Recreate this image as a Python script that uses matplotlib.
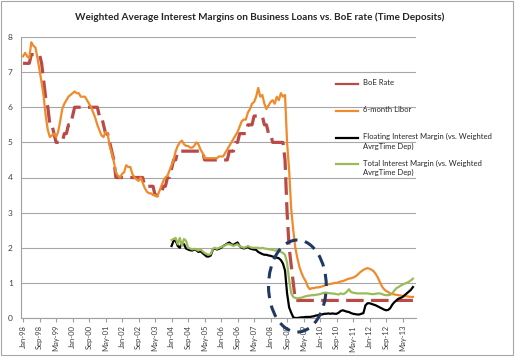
import numpy as np
import matplotlib.pyplot as plt
from matplotlib.patches import Ellipse, Rectangle
from matplotlib.lines import Line2D

title = 'Weighted Average Interest Margins on Business Loans vs. BoE rate (Time Deposits)'

# monthly, Jan-98 .. Oct-13
boe_rate = [
    7.25, 7.25, 7.25, 7.25, 7.5, 7.5, 7.5, 7.5, 7.5, 7.25, 6.75, 6.25,   # 1998
    6.0, 5.5, 5.5, 5.25, 5.0, 5.0, 5.0, 5.0, 5.25, 5.25, 5.5, 5.5,       # 1999
    5.75, 6.0, 6.0, 6.0, 6.0, 6.0, 6.0, 6.0, 6.0, 6.0, 6.0, 6.0,         # 2000
    6.0, 5.75, 5.75, 5.5, 5.25, 5.25, 5.0, 4.75, 4.5, 4.0, 4.0, 4.0,     # 2001
    4.0, 4.0, 4.0, 4.0, 4.0, 4.0, 4.0, 4.0, 4.0, 4.0, 4.0, 3.75,         # 2002
    3.75, 3.75, 3.75, 3.75, 3.5, 3.5, 3.5, 3.5, 3.75, 3.75, 4.0, 4.0,    # 2003
    4.25, 4.5, 4.5, 4.75, 4.75, 4.75, 4.75, 4.75, 4.75, 4.75, 4.75, 4.75,  # 2004
    4.75, 4.75, 4.75, 4.75, 4.5, 4.5, 4.5, 4.5, 4.5, 4.5, 4.5, 4.5,      # 2005
    4.5, 4.5, 4.5, 4.5, 4.75, 4.75, 4.75, 5.0, 5.0, 5.25, 5.25, 5.25,    # 2006
    5.25, 5.5, 5.5, 5.5, 5.75, 5.75, 5.75, 5.75, 5.75, 5.5, 5.5, 5.25,   # 2007
    5.25, 5.0, 5.0, 5.0, 5.0, 5.0, 5.0, 4.5, 3.0, 2.0, 1.5, 1.0,         # 2008
    0.5, 0.5, 0.5, 0.5, 0.5, 0.5, 0.5, 0.5, 0.5, 0.5, 0.5, 0.5,          # 2009
    0.5, 0.5, 0.5, 0.5, 0.5, 0.5, 0.5, 0.5, 0.5, 0.5, 0.5, 0.5,          # 2010
    0.5, 0.5, 0.5, 0.5, 0.5, 0.5, 0.5, 0.5, 0.5, 0.5, 0.5, 0.5,          # 2011
    0.5, 0.5, 0.5, 0.5, 0.5, 0.5, 0.5, 0.5, 0.5, 0.5, 0.5, 0.5,          # 2012
    0.5, 0.5, 0.5, 0.5, 0.5, 0.5, 0.5, 0.5, 0.5, 0.5,                    # 2013
]

libor_6m = [
    7.45, 7.55, 7.45, 7.4, 7.85, 7.75, 7.7, 7.4, 7.05, 6.7, 6.3, 5.75,
    5.35, 5.15, 5.2, 5.25, 5.15, 5.3, 5.6, 5.95, 6.1, 6.2, 6.3, 6.35,
    6.4, 6.45, 6.4, 6.4, 6.3, 6.3, 6.3, 6.2, 6.1, 6.0, 5.85, 5.7,
    5.5, 5.35, 5.2, 5.15, 5.3, 5.25, 4.9, 4.7, 4.45, 4.15, 4.05, 4.0,
    4.1, 4.15, 4.35, 4.3, 4.3, 4.1, 4.0, 3.95, 3.9, 4.0, 3.85, 3.7,
    3.6, 3.55, 3.55, 3.5, 3.5, 3.45, 3.6, 3.75, 3.9, 4.0, 4.05, 4.2,
    4.35, 4.5, 4.75, 4.9, 5.0, 5.05, 4.95, 4.9, 4.9, 4.85, 4.85, 4.9,
    5.0, 4.95, 4.8, 4.7, 4.55, 4.55, 4.55, 4.55, 4.55, 4.55, 4.55, 4.6,
    4.6, 4.6, 4.7, 4.8, 4.9, 5.0, 5.1, 5.2, 5.3, 5.45, 5.6, 5.65,
    5.65, 5.85, 5.95, 6.1, 6.15, 6.3, 6.55, 6.3, 6.35, 6.1, 5.95, 6.05,
    6.15, 6.2, 6.1, 6.3, 6.2, 6.4, 6.3, 6.35, 5.0, 4.2, 3.1, 2.5,
    2.0, 1.7, 1.45, 1.28, 1.15, 1.05, 0.9, 0.82, 0.85, 0.85, 0.87, 0.87,
    0.88, 0.9, 0.92, 0.95, 0.96, 0.97, 0.98, 1.0, 1.0, 1.02, 1.04, 1.05,
    1.07, 1.1, 1.12, 1.13, 1.15, 1.18, 1.22, 1.28, 1.33, 1.37, 1.4, 1.42,
    1.4, 1.37, 1.33, 1.25, 1.15, 1.02, 0.9, 0.82, 0.77, 0.74, 0.7, 0.68,
    0.67, 0.66, 0.65, 0.64, 0.63, 0.62, 0.62, 0.61, 0.6, 0.6,
]

# margins start Jan-04
margin_start = 72
floating_margin = [
    2.05, 2.2, 2.2, 2.05, 2.0, 2.15, 2.1, 1.98, 1.95, 1.93, 1.92, 1.95,
    1.93, 1.88, 1.9, 1.85, 1.8, 1.75, 1.75, 1.78, 1.95, 1.98, 1.95, 1.97,
    2.0, 2.05, 2.08, 2.12, 2.15, 2.1, 2.08, 2.12, 2.15, 2.05, 2.0, 1.98,
    2.0, 2.02, 1.98, 1.96, 1.95, 1.94, 1.88, 1.85, 1.82, 1.8, 1.8, 1.78,
    1.77, 1.75, 1.73, 1.72, 1.7, 1.65, 1.55, 1.35, 0.7, 0.3, 0.15, 0.02,
    0.0, 0.0, 0.01, 0.02, 0.02, 0.03, 0.03, 0.03, 0.04, 0.05, 0.07, 0.08,
    0.1, 0.1, 0.12, 0.12, 0.13, 0.12, 0.13, 0.12, 0.12, 0.15, 0.2, 0.22,
    0.2, 0.18, 0.17, 0.14, 0.12, 0.11, 0.1, 0.1, 0.12, 0.14, 0.36, 0.42,
    0.42, 0.4, 0.38, 0.36, 0.33, 0.3, 0.27, 0.24, 0.22, 0.23, 0.28, 0.38,
    0.45, 0.5, 0.55, 0.57, 0.6, 0.65, 0.7, 0.75, 0.8, 0.88,
]
total_margin = [
    2.22, 2.25, 2.28, 2.1, 2.28, 2.05, 2.25, 2.2, 2.0, 1.98, 1.95, 1.97,
    1.95, 1.92, 1.95, 1.9, 1.85, 1.82, 1.8, 1.82, 1.97, 2.0, 1.97, 2.0,
    2.02, 2.05, 2.07, 2.1, 2.1, 2.08, 2.05, 2.08, 2.1, 2.05, 2.02, 2.0,
    2.02, 2.05, 2.02, 2.0, 2.0, 2.0, 2.0, 1.98, 2.0, 1.98, 1.97, 1.96,
    1.95, 1.94, 1.92, 1.93, 1.9, 1.88, 1.85, 1.8, 1.57, 1.08, 0.7, 0.6,
    0.57, 0.56, 0.57, 0.58, 0.6, 0.62, 0.63, 0.64, 0.65, 0.65, 0.66, 0.67,
    0.68, 0.7, 0.72, 0.72, 0.71, 0.7, 0.7, 0.69, 0.68, 0.67, 0.7, 0.68,
    0.7, 0.75, 0.82, 0.74, 0.72, 0.71, 0.7, 0.7, 0.7, 0.7, 0.7, 0.7,
    0.69, 0.68, 0.68, 0.69, 0.7, 0.7, 0.68, 0.66, 0.65, 0.65, 0.66, 0.7,
    0.78, 0.85, 0.88, 0.92, 0.95, 0.98, 1.0, 1.03, 1.07, 1.12,
]

tick_labels = ['Jan-98', 'Sep-98', 'May-99', 'Jan-00', 'Sep-00', 'May-01', 'Jan-02', 'Sep-02',
               'May-03', 'Jan-04', 'Sep-04', 'May-05', 'Jan-06', 'Sep-06', 'May-07', 'Jan-08',
               'Sep-08', 'May-09', 'Jan-10', 'Sep-10', 'May-11', 'Jan-12', 'Sep-12', 'May-13']

series_names = ['BoE Rate', '6-month Libor',
                'Floating Interest Margin (vs. Weighted\nAvrgTime Dep)',
                'Total Interest Margin (vs. Weighted\nAvrgTime Dep)']
series_colors = ['#B84A47', '#F08A2C', 'black', '#9BBB59']

plt.rcParams['font.family'] = ['Lato', 'DejaVu Sans']

fig = plt.figure(figsize=(5.19, 3.59), dpi=100)
ax = fig.add_axes([21 / 519, 1 - 318 / 359, (416 - 21) / 519, (318 - 37) / 359])

months = np.arange(len(libor_6m))
m_months = np.arange(margin_start, margin_start + len(floating_margin))

ax.plot(months, boe_rate, color=series_colors[0], lw=2.3, dashes=(5.5, 2.3), zorder=3)
ax.plot(months, libor_6m, color=series_colors[1], lw=1.6, zorder=4)
ax.plot(m_months, floating_margin, color=series_colors[2], lw=1.6, zorder=4)
ax.plot(m_months, total_margin, color=series_colors[3], lw=1.6, zorder=5)

ell = Ellipse((133, 0.91), width=28, height=2.62, fill=False, edgecolor='#1F3864',
              lw=2.2, linestyle=(0, (4, 2.5)), clip_on=False, zorder=6)
ax.add_patch(ell)

ax.set_xlim(-1, 190.5)
ax.set_ylim(0, 8)
ax.set_yticks(range(0, 9))
ax.set_xticks(np.arange(0, 8 * len(tick_labels), 8))
ax.set_xticklabels(tick_labels, rotation=90, fontsize=5.5, color='#404040')
ax.tick_params(axis='y', labelsize=6, colors='#404040', length=0, pad=6)
ax.tick_params(axis='x', length=3, color='#A0A0A0', pad=2)
ax.grid(axis='y', color='#A6A6A6', lw=0.8)
ax.set_axisbelow(True)
for s in ['top', 'right']:
    ax.spines[s].set_visible(False)
for s in ['left', 'bottom']:
    ax.spines[s].set_color('#A0A0A0')
    ax.spines[s].set_linewidth(0.8)

fig.text(0.5, 1 - 17 / 359, title, ha='center', va='center', fontsize=7.2, fontweight='bold',
         color='#262626')

# legend, Excel style: entries spaced evenly, handle on the first text line
for i, (name, col) in enumerate(zip(series_names, series_colors)):
    yy = 1 - (84 + 26.8 * i) / 359
    fig.add_artist(Line2D([336 / 519, 358 / 519], [yy, yy], transform=fig.transFigure,
                          color=col, lw=1.6))
    fig.text(363 / 519, yy + 5 / 359, name, ha='left', va='top', fontsize=5.5,
             color='#262626', linespacing=1.45)

fig.patches.append(Rectangle((1 / 519, 4 / 359), 512 / 519, 354 / 359, transform=fig.transFigure,
                             fill=False, edgecolor='#A6A6A6', lw=0.8))

fig.savefig('out.png', dpi=100)
